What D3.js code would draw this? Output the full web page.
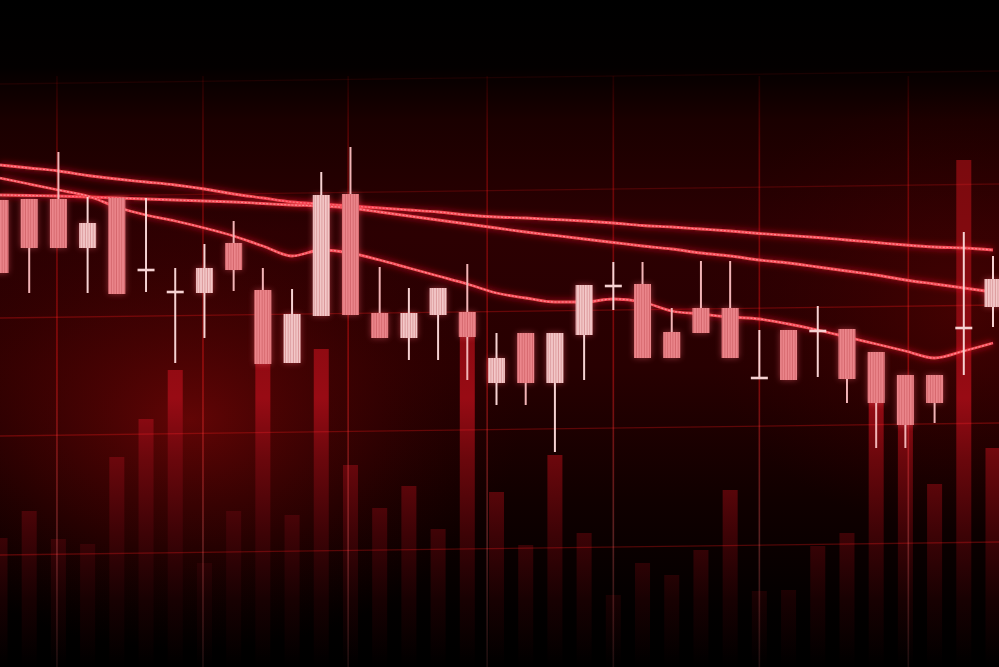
<!DOCTYPE html>
<html><head><meta charset="utf-8">
<script src="https://cdn.jsdelivr.net/npm/d3@7"></script>
<style>html,body{margin:0;padding:0;background:#000;overflow:hidden}</style>
</head><body><svg id="c" width="999" height="667"></svg>
<script>
// ---- data (price units, one entry per candle) ----
const candleOpen  = [100,100.2,100.2,90.4,100.4,86,81.6,81.4,91.4,82,67.4,76.8,101.2,77.4,72.4,77,77.6,63.4,73.4,63.4,73,82.8,83.2,73.6,78.4,78.4,64.4,74,73.8,74.2,69.6,65,65,74.4,78.6];
const candleClose = [85.4,90.4,90.4,95.4,81.2,86,81.6,86.4,86,67.2,77.2,101,77,72.4,77.4,82.4,72.6,68.4,63.4,73.4,83,82.8,68.4,68.4,73.4,68.4,64.4,64,73.8,64.2,59.4,55,59.4,74.4,84.2];
const candleHigh  = [100,100.2,109.6,100.6,100.4,100.4,86.4,91.2,95.8,86.4,82.2,105.6,110.6,86.6,82.4,82.4,87.2,73.4,73.4,73.4,83,87.6,87.6,78.4,87.8,87.8,74,74,78.8,74.2,69.6,65,65,93.6,88.8];
const candleLow   = [85.4,81.4,90.4,81.4,81.2,81.6,67.4,72.4,81.8,67.2,67.4,76.8,77,72.4,68,68,64,59,59,49.6,64,78,68.4,68.4,73.4,68.4,64.4,64,64.6,59.4,50.4,50.4,55.4,65,74.6];
const volumes     = [25.8,31.2,25.6,24.6,42,49.6,59.4,20.8,31.2,60.8,30.4,63.6,40.4,31.8,36.2,27.6,66,35,24.4,42.4,26.8,14.4,20.8,18.4,23.4,35.4,15.2,15.4,24.2,26.8,53.4,48.4,36.6,101.4,43.8];
const maSlow = [107,106.4,105.8,104.9,104.2,103.6,103,102.2,101.2,100.4,99.6,99.2,98.8,98.4,98,97.6,97,96.6,96.4,96.1,95.8,95.4,94.9,94.6,94.2,93.8,93.3,92.9,92.5,92,91.5,91,90.6,90.4,90];
const maMid  = [101,100.9,100.8,100.6,100.4,100.2,100,99.8,99.6,99.3,99,98.8,98.4,97.6,96.8,96,95.2,94.4,93.6,92.9,92.2,91.5,90.8,90.2,89.4,88.8,88,87.4,86.6,85.8,85,84,83.2,82.4,81.6];
const maFast = [104.4,103.2,102,100.8,98.6,97,95.8,94.4,92.8,90.8,88.8,90,89.4,88,86.4,84.8,83.2,81.4,80.4,79.6,79.6,80.2,79.6,77.8,77.2,76.6,76.2,75.2,74,72.6,71.2,69.8,68.4,69.8,71.4];
const gridLevels = [123.2, 100.6, 76.4, 52.8, 29];
const gridIndex  = [1.95, 6.95, 11.92, 16.68, 21, 26, 31.1];

const W = 999, H = 667;
const candles = candleOpen.map((o,i)=>({i, o, c:candleClose[i], h:candleHigh[i], l:candleLow[i], v:volumes[i]}));

const x  = d3.scaleLinear().domain([0, 34]).range([0, 993]);
const y  = d3.scaleLinear().domain([0, 140]).range([700, 0]);
const yv = d3.scaleLinear().domain([0, 100]).range([667, 167]);
const bodyW = 17, volW = 15, tilt = -13;

const svg = d3.select("#c");
const defs = svg.append("defs");

// background gradients
const bg = defs.append("linearGradient").attr("id","bg").attr("x1",0).attr("y1",0).attr("x2",0).attr("y2",1);
[[0,"#000"],[0.1,"#030000"],[0.18,"#1a0000"],[0.35,"#2c0002"],[0.55,"#280001"],[0.75,"#100000"],[0.92,"#020000"],[1,"#000"]]
  .forEach(([o,c])=>bg.append("stop").attr("offset",o).attr("stop-color",c));
const glow1 = defs.append("radialGradient").attr("id","glow1").attr("cx",0.5).attr("cy",0.5).attr("r",0.5);
glow1.append("stop").attr("offset",0).attr("stop-color","#720606").attr("stop-opacity",0.8);
glow1.append("stop").attr("offset",0.5).attr("stop-color","#520303").attr("stop-opacity",0.45);
glow1.append("stop").attr("offset",1).attr("stop-color","#300000").attr("stop-opacity",0);
const glow2 = defs.append("radialGradient").attr("id","glow2").attr("cx",0.5).attr("cy",0.5).attr("r",0.5);
glow2.append("stop").attr("offset",0).attr("stop-color","#4a0202").attr("stop-opacity",0.8);
glow2.append("stop").attr("offset",1).attr("stop-color","#300000").attr("stop-opacity",0);

// volume gradient
const vg = defs.append("linearGradient").attr("id","vg").attr("gradientUnits","userSpaceOnUse")
  .attr("x1",0).attr("y1",150).attr("x2",0).attr("y2",667);
[[0,"#7a0a0e"],[0.3,"#880a10"],[0.48,"#980b14"],[0.6,"#6a070c"],[0.74,"#3e0306"],[0.87,"#180102"],[1,"#000"]]
  .forEach(([o,c])=>vg.append("stop").attr("offset",o).attr("stop-color",c));

// vertical grid gradient
const gg = defs.append("linearGradient").attr("id","gg").attr("gradientUnits","userSpaceOnUse")
  .attr("x1",0).attr("y1",70).attr("x2",0).attr("y2",667);
[[0,"#120000"],[0.15,"#4e0505"],[0.5,"#680909"],[0.78,"#502020"],[1,"#1c0e0e"]]
  .forEach(([o,c])=>gg.append("stop").attr("offset",o).attr("stop-color",c));

// stripes pattern
const pat = defs.append("pattern").attr("id","stripes").attr("patternUnits","userSpaceOnUse").attr("width",2.6).attr("height",10);
pat.append("rect").attr("x",1.6).attr("y",0).attr("width",1).attr("height",10).attr("fill","rgba(150,20,30,0.28)");

// blur filters
const f1 = defs.append("filter").attr("id","blur3").attr("x","-20%").attr("y","-20%").attr("width","140%").attr("height","140%");
f1.append("feGaussianBlur").attr("stdDeviation",3);

// background
svg.append("rect").attr("width",W).attr("height",H).attr("fill","#000");
svg.append("rect").attr("width",W).attr("height",H).attr("fill","url(#bg)");
svg.append("ellipse").attr("cx",190).attr("cy",420).attr("rx",330).attr("ry",230).attr("fill","url(#glow1)");
svg.append("ellipse").attr("cx",960).attr("cy",310).attr("rx",260).attr("ry",220).attr("fill","url(#glow2)");

// volume bars
svg.append("g").selectAll("rect").data(candles).join("rect")
  .attr("x", d=>x(d.i)-volW/2).attr("width", volW)
  .attr("y", d=>yv(d.v)).attr("height", d=>H - yv(d.v))
  .attr("fill","url(#vg)");

// horizontal grid
svg.append("g").selectAll("line").data(gridLevels).join("line")
  .attr("x1",0).attr("x2",W)
  .attr("y1",d=>y(d)).attr("y2",d=>y(d)+tilt)
  .attr("stroke","#7a0c0c").attr("stroke-width",1.3)
  .attr("stroke-opacity",d=>d>120?0.18:(d>90?0.4:0.6))
  .style("mix-blend-mode","screen");

// vertical grid
svg.append("g").selectAll("line").data(gridIndex).join("line")
  .attr("x1",d=>x(d)).attr("x2",d=>x(d))
  .attr("y1",y(gridLevels[0])-8).attr("y2",H)
  .attr("stroke","url(#gg)").attr("stroke-width",1.6)
  .style("mix-blend-mode","screen");

// moving averages
const line = d3.line().x((d,i)=>x(i)).y(d=>y(d)).curve(d3.curveMonotoneX);
const maG = svg.append("g");
[maSlow, maMid, maFast].forEach(s=>{
  maG.append("path").attr("d", line(s)).attr("fill","none")
    .attr("stroke","#ff1a2a").attr("stroke-width",6).attr("stroke-opacity",0.4).attr("filter","url(#blur3)");
  maG.append("path").attr("d", line(s)).attr("fill","none")
    .attr("stroke","#f44a56").attr("stroke-width",2.8);
  maG.append("path").attr("d", line(s)).attr("fill","none")
    .attr("stroke","#ffa8ac").attr("stroke-width",1.2).attr("stroke-dasharray","2,1.6").attr("stroke-opacity",0.7);
});

// candles
const lightCol = "#f4caca", pinkCol = "#ec878c", wickCol = "#f6d2d2";
const cg = svg.append("g");
const isUp = d=>d.c>=d.o;
cg.append("g").attr("filter","url(#blur3)").attr("opacity",0.45).selectAll("rect").data(candles.filter(d=>d.o!==d.c)).join("rect")
  .attr("x",d=>x(d.i)-bodyW/2).attr("width",bodyW)
  .attr("y",d=>y(Math.max(d.o,d.c))).attr("height",d=>y(Math.min(d.o,d.c))-y(Math.max(d.o,d.c)))
  .attr("fill","#ff6070");
cg.append("g").selectAll("line").data(candles).join("line")
  .attr("x1",d=>x(d.i)).attr("x2",d=>x(d.i))
  .attr("y1",d=>y(d.h)).attr("y2",d=>y(d.l))
  .attr("stroke",d=>isUp(d)?wickCol:"#f2b4b6").attr("stroke-width",2);
const bodies = candles.filter(d=>d.o!==d.c);
cg.append("g").selectAll("rect").data(bodies).join("rect")
  .attr("x",d=>x(d.i)-bodyW/2).attr("width",bodyW)
  .attr("y",d=>y(Math.max(d.o,d.c))).attr("height",d=>y(Math.min(d.o,d.c))-y(Math.max(d.o,d.c)))
  .attr("fill",d=>isUp(d)?lightCol:pinkCol);
cg.append("g").selectAll("rect").data(bodies).join("rect")
  .attr("x",d=>x(d.i)-bodyW/2).attr("width",bodyW)
  .attr("y",d=>y(Math.max(d.o,d.c))).attr("height",d=>y(Math.min(d.o,d.c))-y(Math.max(d.o,d.c)))
  .attr("fill","url(#stripes)");
cg.append("g").selectAll("line").data(candles.filter(d=>d.o===d.c)).join("line")
  .attr("x1",d=>x(d.i)-bodyW/2).attr("x2",d=>x(d.i)+bodyW/2)
  .attr("y1",d=>y(d.o)).attr("y2",d=>y(d.o))
  .attr("stroke",wickCol).attr("stroke-width",2.6);
</script></body></html>
